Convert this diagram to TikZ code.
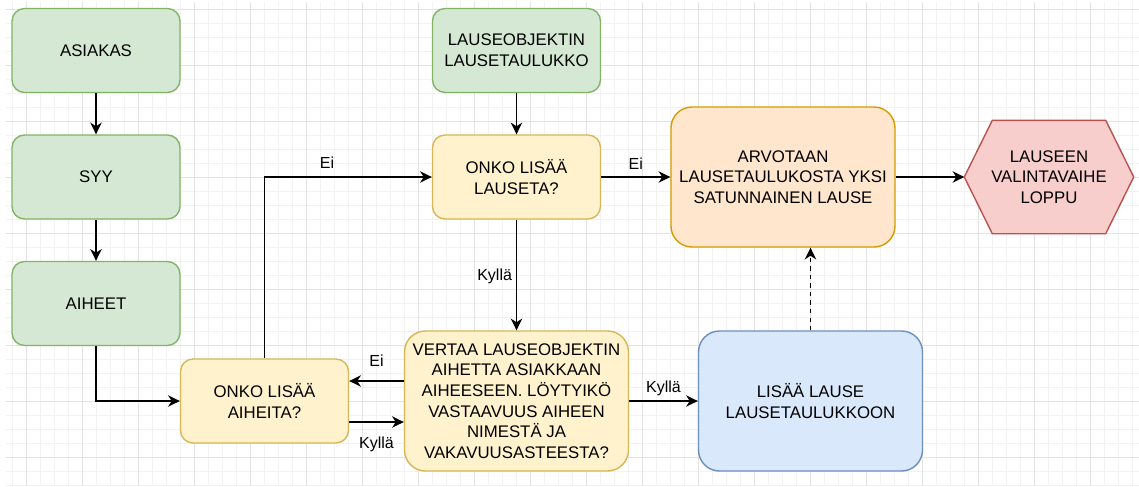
\documentclass[tikz,border=0pt]{standalone}
\usepackage{fontspec}
\setmainfont{Liberation Sans}
\usetikzlibrary{arrows.meta,backgrounds}

\definecolor{gridminor}{HTML}{F2F2F2}
\definecolor{gridmajor}{HTML}{E3E3E3}
\definecolor{greenfill}{HTML}{D5E8D4}
\definecolor{greenline}{HTML}{82B366}
\definecolor{yellowfill}{HTML}{FFF2CC}
\definecolor{yellowline}{HTML}{D6B656}
\definecolor{orangefill}{HTML}{FFE6CC}
\definecolor{orangeline}{HTML}{D79B00}
\definecolor{bluefill}{HTML}{DAE8FC}
\definecolor{blueline}{HTML}{6C8EBF}
\definecolor{redfill}{HTML}{F8CECC}
\definecolor{redline}{HTML}{B85450}

\begin{document}
\begin{tikzpicture}[x=0.75pt,y=-0.75pt,
  box/.style={line width=1.05pt, align=center, inner sep=0pt,
    font=\fontsize{12.6}{15.5}\selectfont},
  smallbox/.style={box, rectangle, rounded corners=9.45pt,
    minimum width=126pt, minimum height=63pt},
  bigbox/.style={box, rectangle, rounded corners=15.75pt,
    minimum width=168pt, minimum height=105pt},
  greenbox/.style={draw=greenline, fill=greenfill},
  yellowbox/.style={draw=yellowline, fill=yellowfill},
  orangebox/.style={draw=orangeline, fill=orangefill},
  bluebox/.style={draw=blueline, fill=bluefill},
  hexbox/.style={box, rectangle, minimum width=126pt, minimum height=84pt},
  hexshape/.style={draw=redline, fill=redfill, line width=1.05pt, line join=miter},
  arr/.style={draw=black, line width=1.05pt,
    -{Stealth[length=8.8pt, width=8.6pt, inset=2.8pt]}},
  lbl/.style={font=\fontsize{12}{14}\selectfont, inner sep=0pt},
  gminor/.style={draw=gridminor, line width=0.75pt},
  gmajor/.style={draw=gridmajor, line width=0.75pt}]

\useasboundingbox (0,0) rectangle (1139,486);

% background grid
\begin{scope}[on background layer]
  \fill[white] (0,0) rectangle (1139,486);
  \foreach \i in {0,...,80} \draw[gminor] ({12.7+14*\i},1.5) -- ({12.7+14*\i},486);
  \foreach \j in {0,...,34} \draw[gminor] (6,{9.3+14*\j}) -- (1139,{9.3+14*\j});
  \foreach \i in {0,...,19} \draw[gmajor] ({26.7+56*\i},1.5) -- ({26.7+56*\i},486);
  \foreach \j in {0,...,8} \draw[gmajor] (6,{9.3+56*\j}) -- (1139,{9.3+56*\j});
\end{scope}

% left column
\node[smallbox, greenbox] (asiakas) at (96,50.5) {ASIAKAS};
\node[smallbox, greenbox] (syy) at (96,177) {SYY};
\node[smallbox, greenbox] (aiheet) at (96,303.5) {AIHEET};

% middle column
\node[smallbox, greenbox] (lobj) at (516.5,50.5) {LAUSEOBJEKTIN\\LAUSETAULUKKO};
\node[smallbox, yellowbox] (onkoL) at (516.5,177) {ONKO LISÄÄ\\LAUSETA?};
\node[bigbox, yellowbox] (vertaa) at (516.5,401) {VERTAA LAUSEOBJEKTIN\\AIHETTA ASIAKKAAN\\AIHEESEEN. LÖYTYIKÖ\\VASTAAVUUS AIHEEN\\NIMESTÄ JA\\VAKAVUUSASTEESTA?};
\node[smallbox, yellowbox] (onkoA) at (264.5,401) {ONKO LISÄÄ\\AIHEITA?};

% right part
\node[bigbox, orangebox] (arvo) at (783,177) {ARVOTAAN\\LAUSETAULUKOSTA YKSI\\SATUNNAINEN LAUSE};
\node[bigbox, bluebox] (lisaa) at (810.5,401) {LISÄÄ LAUSE\\LAUSETAULUKKOON};
\node[hexbox] (loppu) at (1049,177) {LAUSEEN\\VALINTAVAIHE\\LOPPU};
\begin{scope}[on background layer]
  \path[hexshape] (loppu.west) -- ([xshift=21pt]loppu.north west)
    -- ([xshift=-21pt]loppu.north east) -- (loppu.east)
    -- ([xshift=-21pt]loppu.south east) -- ([xshift=21pt]loppu.south west) -- cycle;
\end{scope}

% connectors
\draw[arr] (asiakas) -- (syy);
\draw[arr] (syy) -- (aiheet);
\draw[arr] (aiheet.south) |- (onkoA.west);
\draw[arr] (onkoA.north) |- (onkoL.west)
  node[lbl, pos=0.687, yshift=10.5pt] {Ei};
\draw[arr] (lobj) -- (onkoL);
\draw[arr] (onkoL) -- (arvo)
  node[lbl, midway, yshift=9.8pt] {Ei};
\draw[arr] (onkoL) -- (vertaa)
  node[lbl, pos=0.51, xshift=-16.4pt] {Kyllä};
\draw[arr] ([yshift=15pt]vertaa.west) -- ([yshift=15pt]onkoA.east)
  node[lbl, midway, yshift=15pt] {Ei};
\draw[arr] ([yshift=-15.75pt]onkoA.east) -- ([yshift=-15.75pt]vertaa.west)
  node[lbl, midway, yshift=-16.5pt] {Kyllä};
\draw[arr] (vertaa) -- (lisaa)
  node[lbl, midway, yshift=9.5pt] {Kyllä};
\draw[arr, dashed, dash pattern=on 3.2pt off 3.2pt] (lisaa.north) -- (lisaa.north |- arvo.south);
\draw[arr] (arvo) -- (loppu);

\end{tikzpicture}
\end{document}
